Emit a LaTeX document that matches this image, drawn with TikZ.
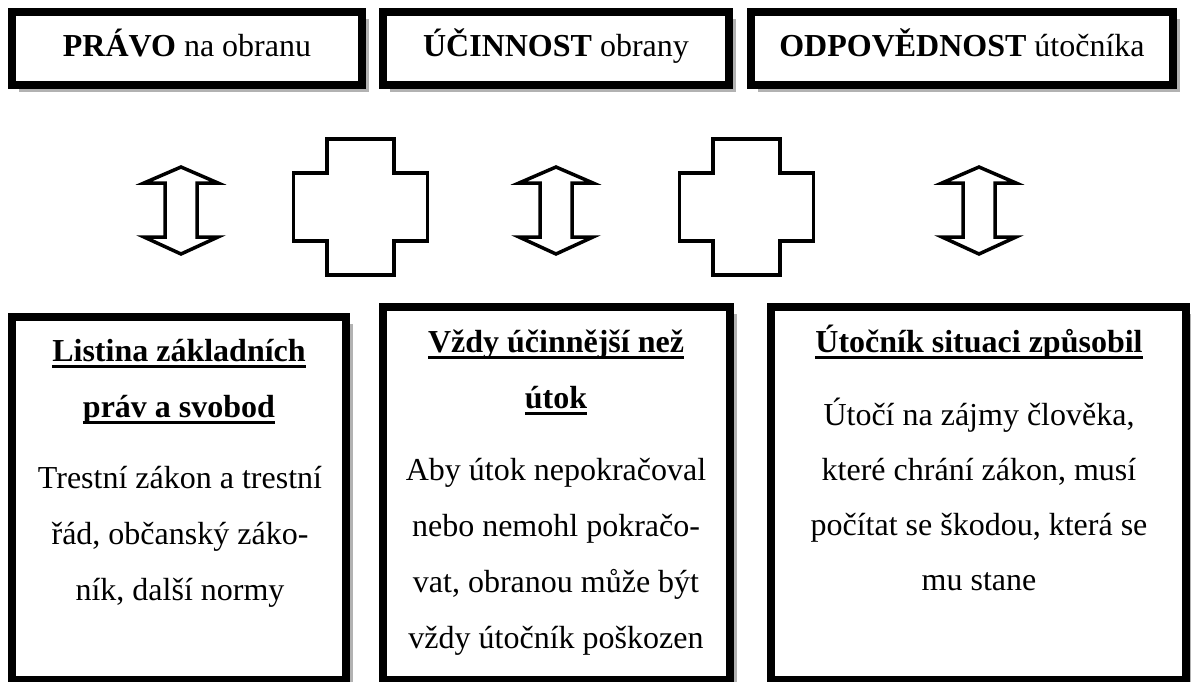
\documentclass[tikz,border=0pt]{standalone}
\usepackage{fontspec}
\setmainfont{Liberation Serif}
\usetikzlibrary{shadows}
\newsavebox\ulbox
\newcommand\myul[1]{\sbox\ulbox{#1}\rlap{\rule[-7pt]{\wd\ulbox}{3pt}}\usebox\ulbox}
\tikzset{
  box/.style={draw=black, line width=8pt, fill=white, inner sep=0pt, rectangle,
    drop shadow={shadow xshift=7pt, shadow yshift=-7pt, fill=black!30, opacity=1}},
  txt/.style={inner sep=0pt, anchor=base, font=\fontsize{32}{38}\selectfont},
  hd/.style={txt, font=\fontsize{32}{38}\selectfont\bfseries},
  outline/.style={draw=black, line width=3.5pt, line join=miter, fill=white}
}
\begin{document}
\begin{tikzpicture}[x=1pt,y=-1pt]
\useasboundingbox (0,0) rectangle (1191,681);
% top boxes
\node[box, minimum width=350, minimum height=73] (t1) at (187,48.5) {};
\node[box, minimum width=346, minimum height=73] (t2) at (556,48.5) {};
\node[box, minimum width=422, minimum height=73] (t3) at (962,48.5) {};
\node[txt] (t1txt) at (187,56) {\textbf{PRÁVO} na obranu};
\node[txt] (t2txt) at (556,56) {\textbf{ÚČINNOST} obrany};
\node[txt] (t3txt) at (962,56) {\textbf{ODPOVĚDNOST} útočníka};
% double arrows
\foreach \cx in {181,556,979}{
  \draw[outline, shift={(\cx,0)}] (0,167) -- (37,183) -- (16,183) -- (16,237) -- (37,237)
    -- (0,254) -- (-37,237) -- (-16,237) -- (-16,183) -- (-37,183) -- cycle;
}
% crosses
\foreach \cx in {360.5,746.5}{
  \draw[outline, shift={(\cx,207)}] (-33.5,-68) -- (33.5,-68) -- (33.5,-34) -- (67,-34)
    -- (67,34) -- (33.5,34) -- (33.5,68) -- (-33.5,68) -- (-33.5,34) -- (-67,34)
    -- (-67,-34) -- (-33.5,-34) -- cycle;
}
% bottom boxes
\node[box, minimum width=334, minimum height=363] (b1) at (179,498.5) {};
\node[box, minimum width=347, minimum height=373] (b2) at (556.5,493.5) {};
\node[box, minimum width=415, minimum height=373] (b3) at (978.5,493.5) {};
% box 1 text
\node[hd] (b1h1) at (179,361) {\myul{Listina základních}};
\node[hd] (b1h2) at (179,417) {\myul{práv a svobod}};
\node[txt] (b1l1) at (180,488) {Trestní zákon a trestní};
\node[txt] (b1l2) at (180,544) {řád, občanský záko-};
\node[txt] (b1l3) at (180,600) {ník, další normy};
% box 2 text
\node[hd] (b2h1) at (556,352) {\myul{Vždy účinnější než}};
\node[hd] (b2h2) at (556,408) {\myul{útok}};
\node[txt] (b2l1) at (556,480) {Aby útok nepokračoval};
\node[txt] (b2l2) at (556,536) {nebo nemohl pokračo-};
\node[txt] (b2l3) at (556,592) {vat, obranou může být};
\node[txt] (b2l4) at (556,648) {vždy útočník poškozen};
% box 3 text
\node[hd] (b3h1) at (979,352) {\myul{Útočník situaci způsobil}};
\node[txt] (b3l1) at (979,425) {Útočí na zájmy člověka,};
\node[txt] (b3l2) at (979,480) {které chrání zákon, musí};
\node[txt] (b3l3) at (979,535) {počítat se škodou, která se};
\node[txt] (b3l4) at (979,590) {mu stane};
\end{tikzpicture}
\end{document}
